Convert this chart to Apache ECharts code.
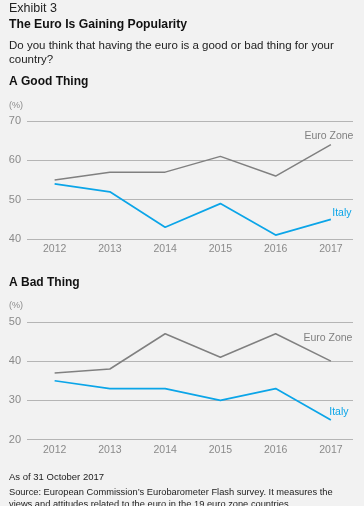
<!DOCTYPE html>
<html><head><meta charset="utf-8">
<script src="https://cdn.jsdelivr.net/npm/echarts@6/dist/echarts.min.js"></script>
<style>html,body{margin:0;padding:0;background:#f2f2f2}#c{width:364px;height:506px}</style>
</head><body><div id="c"></div>
<script>
var years = [2012, 2013, 2014, 2015, 2016, 2017];
var goodEuro = [55, 57, 57, 61, 56, 64];
var goodItaly = [54, 52, 43, 49, 41, 45];
var badEuro = [37, 38, 47, 41, 47, 40];
var badItaly = [35, 33, 33, 30, 33, 25];
var goodTicks = [40, 50, 60, 70];
var badTicks = [20, 30, 40, 50];

var FONT = '"Liberation Sans", Arial, sans-serif';
var GRAY = '#808080';
var BLUE = '#0ba5e8';

function pairs(v){ return years.map(function(y,i){ return [y, v[i]]; }); }
function withLabel(v, text, color, pos){
  var d = pairs(v);
  var last = d.length-1;
  d[last] = {value: d[last], label: {show:true, formatter:text, position:pos, align:'center', verticalAlign:'middle', color:color, fontSize:10.5, fontFamily:FONT}};
  return d;
}
var chart = echarts.init(document.getElementById('c'), null, {renderer:'canvas'});
function xAx(gi){
  return {gridIndex:gi, type:'value', min:2011.5, max:2017.4, splitLine:{show:false}, axisLine:{show:false}, axisTick:{show:false},
    axisLabel:{customValues:years, color:'#8a8a8a', fontSize:10.5, fontFamily:FONT, margin:5, formatter:function(v){return String(v);}}};
}
function yAx(gi, ticks){
  return {gridIndex:gi, type:'value', min:ticks[0], max:ticks[ticks.length-1], interval:10,
    axisLine:{show:false}, axisTick:{show:false},
    axisLabel:{color:'#8a8a8a', fontSize:11, fontFamily:FONT, margin:6},
    splitLine:{lineStyle:{color:'#b5b5b5', width:1}}};
}
function line(xi, data, color, w){
  return {type:'line', xAxisIndex:xi, yAxisIndex:xi, data:data, symbol:'circle', symbolSize:0.01, showSymbol:true,
    lineStyle:{color:color, width:w}, itemStyle:{color:color}, animation:false, z:3,
    labelLayout:{hideOverlap:false}};
}
function txt(left, top, text, size, weight, color, lh){
  return {type:'text', left:left, top:top, style:{text:text, font:(weight||'normal')+' '+size+'px '+FONT, fill:color||'#222', lineHeight:lh||size*1.2}};
}
chart.setOption({
  backgroundColor:'#f2f2f2',
  animation:false,
  grid:[{left:27, right:11, top:121, height:118}, {left:27, right:11, top:322, height:117.5}],
  xAxis:[xAx(0), xAx(1)],
  yAxis:[yAx(0, goodTicks), yAx(1, badTicks)],
  series:[
    line(0, withLabel(goodEuro, 'Euro Zone', GRAY, [-2,-8]), GRAY, 1.5),
    line(0, withLabel(goodItaly, 'Italy', BLUE, [11,-6]), BLUE, 1.7),
    line(1, withLabel(badEuro, 'Euro Zone', GRAY, [-3,-23]), GRAY, 1.5),
    line(1, withLabel(badItaly, 'Italy', BLUE, [8,-8]), BLUE, 1.7)
  ],
  graphic:[
    txt(9, 1, 'Exhibit 3', 12.5, 'normal', '#222'),
    txt(9, 17, 'The Euro Is Gaining Popularity', 12.2, 'bold', '#111'),
    txt(9, 39, 'Do you think that having the euro is a good or bad thing for your\ncountry?', 11.5, 'normal', '#222', 14),
    txt(9, 74, 'A Good Thing', 12, 'bold', '#111'),
    txt(9, 100, '(%)', 9, 'normal', '#8a8a8a'),
    txt(9, 275, 'A Bad Thing', 12, 'bold', '#111'),
    txt(9, 300, '(%)', 9, 'normal', '#8a8a8a'),
    txt(9, 472, 'As of 31 October 2017', 9.5, 'normal', '#222'),
    txt(9, 487, 'Source: European Commission\u2019s Eurobarometer Flash survey. It measures the\nviews and attitudes related to the euro in the 19 euro zone countries', 9.3, 'normal', '#222', 11.5)
  ]
});
</script></body></html>
